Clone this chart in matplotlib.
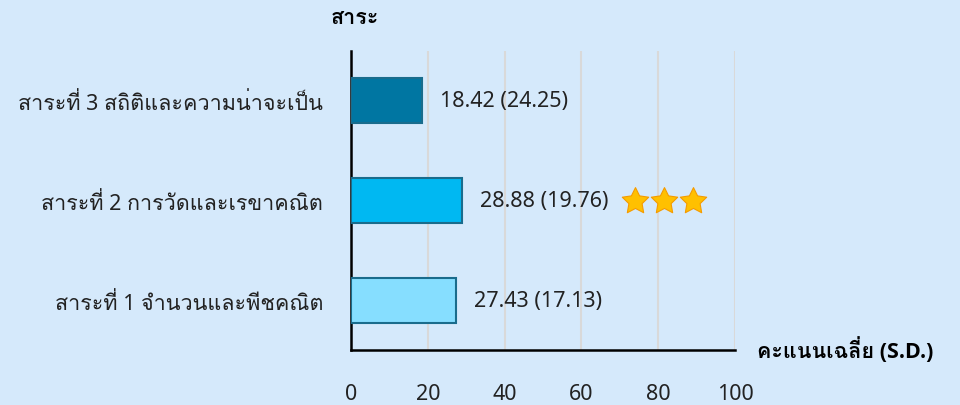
import matplotlib
matplotlib.use("Agg")
import numpy as np
import matplotlib.pyplot as plt
from matplotlib.path import Path

categories = ["สาระที่ 1 จำนวนและพีชคณิต", "สาระที่ 2 การวัดและเรขาคณิต", "สาระที่ 3 สถิติและความน่าจะเป็น"]
means = [27.43, 28.88, 18.42]
sds = [17.13, 19.76, 24.25]
bar_colors = ["#86DEFF", "#00B8F2", "#0076A2"]
xticks = [0, 20, 40, 60, 80, 100]
star_x = [74, 81.5, 89]
star_cat = 1

FAM = ["Noto Sans", "Loma", "DejaVu Sans"]
FAM_BOLD = ["Open Sans", "Loma", "DejaVu Sans"]
plt.rcParams["font.family"] = FAM

# fat five-point star marker
ang = np.pi/2 + np.arange(10) * np.pi/5
rad = np.where(np.arange(10) % 2 == 0, 1.0, 0.5)
verts = np.column_stack([rad*np.cos(ang), rad*np.sin(ang)])
verts = np.vstack([verts, verts[:1]])
star = Path(verts, [Path.MOVETO] + [Path.LINETO]*9 + [Path.CLOSEPOLY])

bg = "#D5E9FB"
fig = plt.figure(figsize=(9.6, 4.06), dpi=100, facecolor=bg)
ax = fig.add_axes([351/960, 1-351/406, 384/960, 299/406], facecolor=bg)

y = list(range(len(categories)))
ax.barh(y, means, height=0.45, color=bar_colors, edgecolor="#1A6C8C", linewidth=1.5, zorder=3)
for yi, m, s in zip(y, means, sds):
    ax.annotate(f"{m:.2f} ({s:.2f})", xy=(m, yi), xytext=(13, 0), textcoords="offset points",
                va="center", ha="left", fontsize=15.5, color="#222222")
ax.scatter(star_x, [star_cat]*len(star_x), marker=star, s=400, facecolor="#FFC000",
           edgecolor="#F59B00", linewidth=0.8, zorder=4)

ax.set_xlim(0, 100)
ax.set_ylim(-0.5, 2.5)
ax.set_yticks(y)
ax.set_yticklabels(categories, fontsize=15.5)
ax.set_xticks(xticks)
ax.set_xticklabels([str(t) for t in xticks], fontsize=15.5)
ax.tick_params(axis="x", length=0, pad=24, colors="#222222")
ax.tick_params(axis="y", length=0, pad=20, colors="#222222")
ax.grid(axis="x", color="#D9D9D9", linewidth=1.5, zorder=0)
for s in ["top", "right"]:
    ax.spines[s].set_visible(False)
for s in ["left", "bottom"]:
    ax.spines[s].set_color("black")
    ax.spines[s].set_linewidth(1.8)

fig.text(355/960, 1-18/406, "สาระ", ha="center", va="center", fontsize=15.5,
         fontweight="bold", family=FAM_BOLD)
fig.text(757/960, 1-350/406, "คะแนนเฉลี่ย (S.D.)", ha="left", va="center", fontsize=15.5,
         fontweight="bold", family=FAM_BOLD)

fig.savefig("out.png", dpi=100, facecolor=bg)
